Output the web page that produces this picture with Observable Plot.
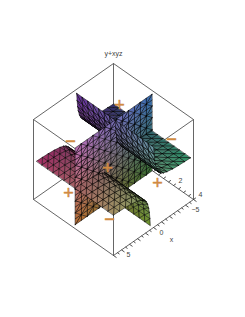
<!DOCTYPE html>
<html><head><meta charset="utf-8">
<script src="https://cdn.jsdelivr.net/npm/d3@7"></script>
<script src="https://cdn.jsdelivr.net/npm/@observablehq/plot@0.6"></script>
<style>html,body{margin:0;padding:0;background:#fff}svg{display:block}</style>
</head><body><div id="c"></div>
<script>
// values
const gridX = [-4.8,-4.06,-3.32,-2.58,-1.85,-1.11,-0.37,0.37,1.11,1.85,2.58,3.32,4.06,4.8];
const gridY = [-3.85,-3.3,-2.75,-2.2,-1.65,-1.1,-0.55,0,0.55,1.1,1.65,2.2,2.75,3.3,3.85];
const gridZ = [-4.8,-4.06,-3.32,-2.58,-1.85,-1.11,-0.37,0.37,1.11,1.85,2.58,3.32,4.06,4.8];
const sheetX = [-4.8,-4.06,-3.32,-2.58,-1.85,-1.4,-1.11,-0.85,-0.68,-0.54,-0.41,-0.33,-0.26,-0.21];
const sheetZ = [0.21,0.25,0.3,0.39,0.54,0.71,0.9,1.18,1.47,1.85,2.44,3.03,3.85,4.76];
const xTicks = [-5,-4.5,-4,-3.5,-3,-2.5,-2,-1.5,-1,-0.5,0,0.5,1,1.5,2,2.5,3,3.5,4,4.5,5];
const yTicks = [0,0.5,1,1.5,2,2.5,3,3.5,4];
const xLabels = [-5,0,5];
const xLabelOffsets = [[2,10],[8,5],[15,-1]];
const yLabels = [2,4];
const redAt = [45,170], greenAt = [45,150], blueAt = [40,165];
const planeBrightness = 0.3;
const signs = [["+",119,105],["−",70,141],["−",171,139],["+",68,193],["+",107,168],["+",157,183],["−",109,219]];
const corners = {x:[-5,5], y:[-4,4], z:[-5,5]};

// axonometric view of the box, read from its drawn corners
const sx = (x,y,z) => 113 - 8*x + 10*y;
const sy = (x,y,z) => 159 + 5.6*x + 7*y - 8*z;
const R = d3.scaleLinear([-5,5], redAt);
const G = d3.scaleLinear([-4,4], greenAt);
const B = d3.scaleLinear([-5,5], blueAt);

let id = 0; const tris = [];
function pushTris(list, bright=0){
  list.sort((a,b)=>d3.sum(a,p=>p[0]/5+p[1]/4+p[2]/5)-d3.sum(b,p=>p[0]/5+p[1]/4+p[2]/5));
  for(const t of list){
    const cx=d3.mean(t,p=>p[0]), cy=d3.mean(t,p=>p[1]), cz=d3.mean(t,p=>p[2]);
    const c=d3.rgb(R(cx),G(cy),B(cz)).brighter(bright).formatHex(); id++;
    for(const p of t) tris.push({id, c, px:sx(...p), py:sy(...p)});
  }
}
function quads(n,m,at,alt){
  const out=[];
  for(let i=0;i<n;i++)for(let j=0;j<m;j++){
    const a=at(i,j),b=at(i+1,j),c=at(i+1,j+1),d=at(i,j+1);
    if(!alt||(i+j)%2===0){out.push([a,b,d],[b,c,d]);}
    else{out.push([a,b,c],[a,c,d]);}
  }
  return out;
}
const ySeg=(lo,hi)=>gridY.slice(lo,hi);
const sheetA=(ys)=>quads(sheetX.length-1,ys.length-1,(i,j)=>[sheetX[i],ys[j],sheetZ[i]]);
const sheetB=(ys)=>quads(sheetX.length-1,ys.length-1,(i,j)=>[-sheetX[i],ys[j],-sheetZ[i]]);
const plane=quads(gridX.length-1,gridZ.length-1,(i,j)=>[gridX[i],0,gridZ[j]],true);
pushTris(sheetA(ySeg(0,8)));
pushTris(sheetB(ySeg(0,8)));
pushTris(plane, planeBrightness);
pushTris(sheetA(ySeg(7,15)));
pushTris(sheetB(ySeg(7,15)));

// box edges
const [x0,x1]=corners.x,[y0,y1]=corners.y,[z0,z1]=corners.z;
const boxEdges=[
 [[x1,y0,z1],[x1,y1,z1]],[[x1,y1,z1],[x0,y1,z1]],[[x0,y1,z1],[x0,y0,z1]],[[x0,y0,z1],[x1,y0,z1]],
 [[x1,y0,z0],[x1,y1,z0]],[[x1,y1,z0],[x0,y1,z0]],[[x0,y1,z0],[x0,y0,z0]],[[x0,y0,z0],[x1,y0,z0]],
 [[x1,y0,z1],[x1,y0,z0]],[[x1,y1,z1],[x1,y1,z0]],[[x0,y1,z1],[x0,y1,z0]],[[x0,y0,z1],[x0,y0,z0]]
].map(([a,b])=>({x1:sx(...a),y1:sy(...a),x2:sx(...b),y2:sy(...b)}));
const xT=xTicks.map(x=>({x1:sx(x,y1,z0),y1:sy(x,y1,z0),x2:sx(x,y1+(x%1===0?.3:.2),z0),y2:sy(x,y1+(x%1===0?.3:.2),z0)}));
const yT=yTicks.map(y=>({x1:sx(x0,y,z0),y1:sy(x0,y,z0),x2:sx(x0-.3,y,z0),y2:sy(x0-.3,y,z0)}));
const labels=[
 {t:"y+xyz",x:113,y:53},
 ...xLabels.map((v,i)=>({t:v<0?"−"+(-v):String(v),x:sx(v,y1,z0)+xLabelOffsets[i][0],y:sy(v,y1,z0)+xLabelOffsets[i][1]})),
 ...yLabels.map(v=>({t:String(v),x:sx(x0,v,z0)+7,y:sy(x0,v,z0)-4.5})),
 {t:"x",x:171,y:239}
];

const plot=Plot.plot({
 width:245,height:317,margin:0,
 x:{domain:[0,245],range:[0,245],axis:null},
 y:{domain:[0,317],range:[0,317],axis:null},
 color:{type:"identity"},
 style:{background:"#fff"},
 marks:[
  Plot.link(boxEdges,{x1:"x1",y1:"y1",x2:"x2",y2:"y2",stroke:"#333",strokeWidth:.75}),
  Plot.link(xT,{x1:"x1",y1:"y1",x2:"x2",y2:"y2",stroke:"#222",strokeWidth:.8}),
  Plot.link(yT,{x1:"x1",y1:"y1",x2:"x2",y2:"y2",stroke:"#222",strokeWidth:.8}),
  Plot.line(tris,{x:"px",y:"py",z:"id",fill:"c",stroke:"#000",strokeWidth:.5,curve:"linear-closed"}),
  Plot.text(labels,{x:"x",y:"y",text:"t",fontSize:7,fill:"#444",fontFamily:"Liberation Sans"}),
  Plot.text(signs,{x:d=>d[1],y:d=>d[2],text:d=>d[0],fontSize:18,fill:"#d08a42",stroke:"#d08a42",strokeWidth:.5,fontFamily:"Liberation Sans"})
 ]
});
document.getElementById("c").appendChild(plot);
</script></body></html>
